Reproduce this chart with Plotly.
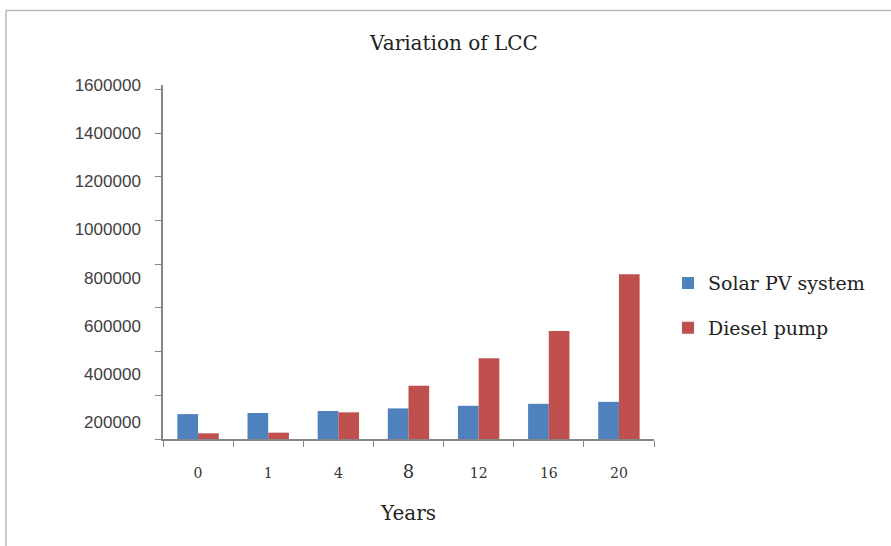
import plotly.graph_objects as go

# Life-cycle cost over the years for the two pumping options
years = ["0", "1", "4", "8", "12", "16", "20"]
solar_pv = [114000, 119000, 128000, 140000, 152000, 161000, 170000]
diesel = [26000, 29000, 122000, 244000, 370000, 494000, 754000]

y_ticks = [0, 200000, 400000, 600000, 800000, 1000000, 1200000, 1400000, 1600000]
y_labels = [200000, 400000, 600000, 800000, 1000000, 1200000, 1400000, 1600000]

# The printed value labels follow their own linear scale next to the axis:
# label value L sits at axis value LABEL_GAIN * (L - LABEL_ZERO)
LABEL_ZERO = 128000
LABEL_GAIN = 1.0994
label_pos = [LABEL_GAIN * (v - LABEL_ZERO) for v in y_labels]

Y_MAX = 1620000

W, H = 891, 546
ML, MR, MB = 163, 237, 107
PLOT_BOTTOM = H - MB
MT = round(PLOT_BOTTOM - 350 * Y_MAX / 1600000, 1)
PW = W - ML - MR
PH = H - MT - MB


def px_x(p):
    return (p - ML) / PW


def px_y(p):
    return (PLOT_BOTTOM - p) / PH


serif = "DejaVu Serif"
axis_col = "#868686"

tick_text = [
    f'<span style="font-size:18px">{y}</span>' if y == "8" else y for y in years
]

fig = go.Figure()
fig.add_trace(go.Bar(name="Solar PV system", x=years, y=solar_pv,
                     marker=dict(color="#4F81BD", line=dict(width=0)),
                     legendgroup="a"))
fig.add_trace(go.Bar(name="Diesel pump", x=years, y=diesel,
                     marker=dict(color="#C0504D", line=dict(width=0)),
                     legendgroup="b"))

fig.update_layout(
    width=W, height=H,
    margin=dict(l=ML, r=MR, t=MT, b=MB),
    paper_bgcolor="white", plot_bgcolor="white",
    barmode="group", bargap=0.41, bargroupgap=0,
    title=dict(text="Variation of LCC", x=454 / W, xref="container",
               xanchor="center", y=1 - 43 / H, yanchor="middle",
               font=dict(family=serif, size=20, color="#222")),
    xaxis=dict(
        type="category", tickvals=years, ticktext=tick_text,
        tickson="boundaries", ticks="outside", ticklen=6, tickcolor=axis_col,
        showline=True, linecolor=axis_col, linewidth=1.5, showgrid=False,
        tickfont=dict(family=serif, size=14, color="#333"),
        ticklabelstandoff=20,
        title=dict(text="Years", standoff=25,
                   font=dict(family=serif, size=20, color="#222")),
    ),
    yaxis=dict(
        range=[0, Y_MAX],
        tickvals=label_pos, ticktext=[str(v) for v in y_labels],
        ticks="", ticklabelstandoff=17,
        tickfont=dict(family="Liberation Sans", size=17, color="#404040"),
        minor=dict(tickvals=y_ticks, ticks="outside", ticklen=6,
                   tickcolor=axis_col, showgrid=False),
        showline=True, linecolor=axis_col, linewidth=1.5,
        showgrid=False, zeroline=False,
    ),
    legend=dict(
        x=px_x(668), y=px_y(264), xanchor="left", yanchor="top",
        traceorder="grouped", tracegroupgap=17,
        font=dict(family=serif, size=19, color="#222"),
        bgcolor="rgba(0,0,0,0)",
    ),
    showlegend=True,
)

# Outer chart frame (left and top edges)
fig.add_shape(type="line", xref="paper", yref="paper",
              x0=px_x(6), x1=px_x(W + 5), y0=px_y(10), y1=px_y(10),
              line=dict(color="#b8b8b8", width=1.5))
fig.add_shape(type="line", xref="paper", yref="paper",
              x0=px_x(6), x1=px_x(6), y0=px_y(10), y1=px_y(H + 5),
              line=dict(color="#b8b8b8", width=1.5))

fig.write_html("out.html")
